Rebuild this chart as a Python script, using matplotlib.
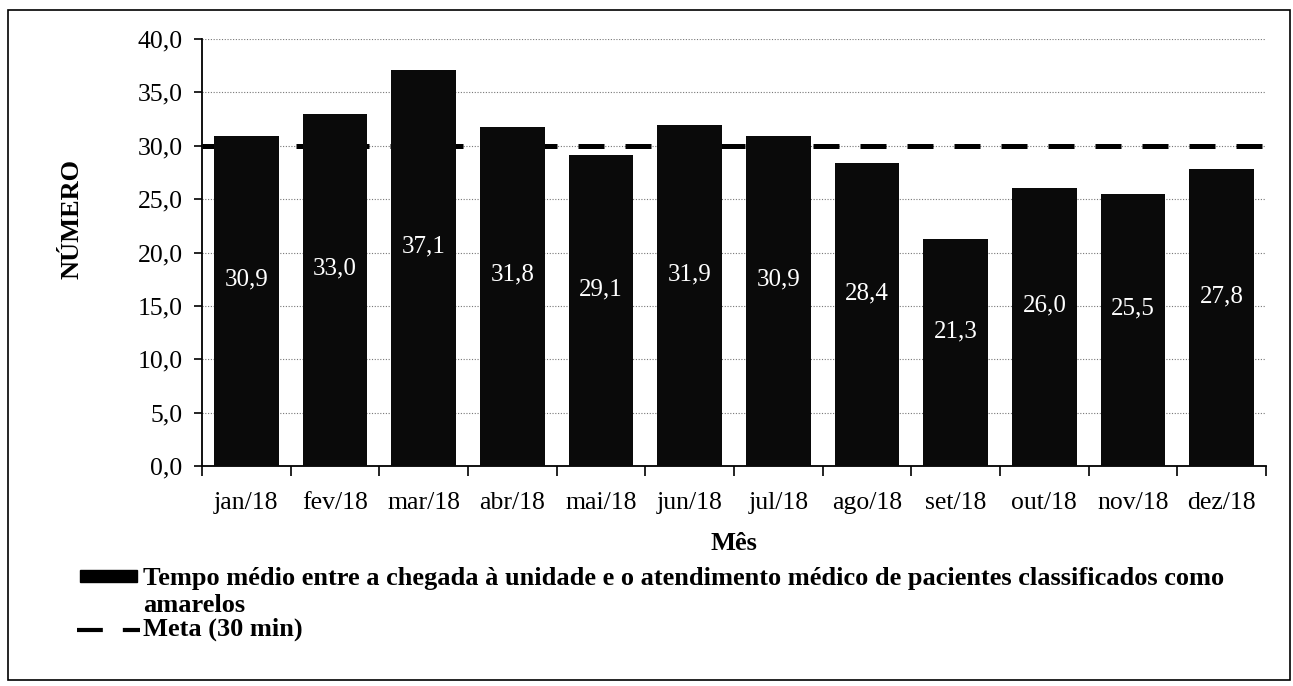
import matplotlib
matplotlib.use("Agg")
import matplotlib.pyplot as plt
from matplotlib.patches import Rectangle
from matplotlib.lines import Line2D
import numpy as np

plt.rcParams["font.family"] = "serif"
plt.rcParams["font.serif"] = ["Liberation Serif", "DejaVu Serif"]

# data
meses = ["jan/18", "fev/18", "mar/18", "abr/18", "mai/18", "jun/18",
         "jul/18", "ago/18", "set/18", "out/18", "nov/18", "dez/18"]
tempo = [30.9, 33.0, 37.1, 31.8, 29.1, 31.9, 30.9, 28.4, 21.3, 26.0, 25.5, 27.8]
meta = 30.0
yticks = [0, 5, 10, 15, 20, 25, 30, 35, 40]

nome_barra = ["Tempo médio entre a chegada à unidade e o atendimento médico de pacientes classificados como",
              "amarelos"]
nome_meta = "Meta (30 min)"

W, H = 1293, 686


def fx(px):
    return px / W


def fy(py):
    return 1 - py / H


fig = plt.figure(figsize=(W / 100, H / 100), dpi=100)
ax = fig.add_axes([fx(202), fy(466), (1266 - 202) / W, (466 - 39) / H])

x = np.arange(len(meses))
ax.bar(x, tempo, width=0.73, color="#0a0a0a", zorder=3)
ax.axhline(meta, color="black", lw=3.6, dashes=(5.2, 4.2), zorder=2)

for xi, v in zip(x, tempo):
    ax.text(xi, v / 2 + 2, f"{v:.1f}".replace(".", ","), ha="center", va="center",
            color="white", fontsize=18, zorder=4)

ax.set_xlim(-0.5, len(meses) - 0.5)
ax.set_ylim(0, 40)
ax.set_yticks(yticks)
ax.set_yticklabels([f"{t:.1f}".replace(".", ",") for t in yticks], fontsize=18.5)
ax.set_xticks(x)
ax.set_xticklabels(meses, fontsize=18.5)
ax.set_xticks(np.arange(len(meses) + 1) - 0.5, minor=True)
ax.tick_params(axis="x", which="major", length=0, pad=19)
ax.tick_params(axis="x", which="minor", length=7, width=1.2, direction="out")
ax.tick_params(axis="y", length=6, width=1.2, pad=8)

for t in yticks[1:]:
    ax.axhline(t, color="#777777", lw=0.8, ls=(0, (1, 1.5)), zorder=1)

ax.spines["top"].set_visible(False)
ax.spines["right"].set_visible(False)
ax.spines["left"].set_linewidth(1.3)
ax.spines["bottom"].set_linewidth(1.3)

ax.set_ylabel("NÚMERO", fontsize=19, fontweight="bold")
ax.yaxis.set_label_coords((83 - 202) / 1064, (466 - 219) / 427)
ax.set_xlabel("Mês", fontsize=19, fontweight="bold", labelpad=13)

# legend, laid out by hand like the original (handle on the first line only)
fig.add_artist(Rectangle((fx(80), fy(582)), (137 - 80) / W, 12 / H,
                         transform=fig.transFigure, color="black"))
fig.text(fx(143), fy(578), nome_barra[0], fontsize=19, fontweight="bold", va="center")
fig.text(fx(143), fy(606), nome_barra[1], fontsize=19, fontweight="bold", va="center")
fig.add_artist(Line2D([fx(77), fx(140)], [fy(630), fy(630)], transform=fig.transFigure,
                      color="black", lw=3.0, dashes=(6.2, 4.8)))
fig.text(fx(143), fy(629), nome_meta, fontsize=19, fontweight="bold", va="center")

fig.add_artist(Rectangle((fx(8), fy(680)), 1282 / W, 670 / H,
                         transform=fig.transFigure, fill=False,
                         edgecolor="black", lw=1.2))

fig.savefig("out.png", dpi=100)
